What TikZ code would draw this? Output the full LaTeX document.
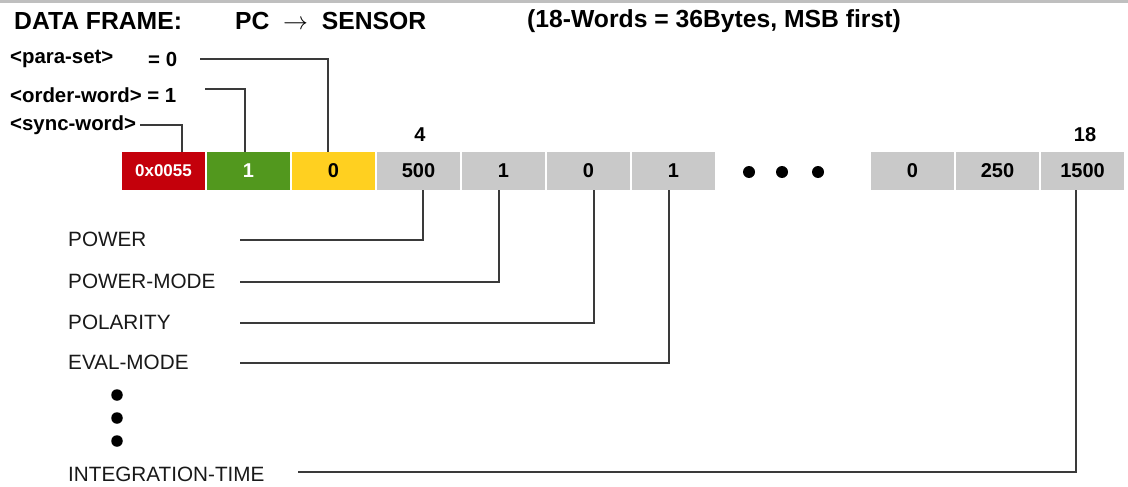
\documentclass[tikz,border=0pt]{standalone}
\usepackage{fontspec}
\setmainfont{Liberation Sans}
\usetikzlibrary{calc}
\definecolor{cred}{HTML}{C4000B}
\definecolor{cgreen}{HTML}{52981E}
\definecolor{cyellow}{HTML}{FFD020}
\definecolor{cgray}{HTML}{C9C9C9}
\definecolor{cline}{HTML}{3A3A3A}
\begin{document}
\begin{tikzpicture}[x=1pt,y=-1pt,
  word/.style={minimum width=83pt,minimum height=38pt,inner sep=0pt,fill=cgray,
    font=\fontsize{20}{24}\selectfont\bfseries},
  ttl/.style={anchor=west,inner sep=0pt,font=\fontsize{24.7}{28}\selectfont\bfseries},
  tag/.style={anchor=west,inner sep=0pt,font=\fontsize{20.4}{24}\selectfont\bfseries},
  lbl/.style={anchor=west,inner sep=0pt,text=black!90,font=\fontsize{20.7}{24}\selectfont},
  conn/.style={draw=cline,line width=1.4pt},
  dot/.style={circle,fill=black,inner sep=0pt,minimum size=12pt}]
\useasboundingbox (0,0) rectangle (1128,487);
\fill[white] (0,0) rectangle (1128,487);
\draw[line width=3pt,draw=black!25] (0,2) -- (1128,2);
% title
\node[ttl] (t1) at (14,21) {DATA FRAME:};
\node[ttl] (t2) at (235,21) {PC\ \ $\rightarrow$\ \ SENSOR};
\node[ttl] (t3) at (527,21) {(18-Words = 36Bytes, MSB first)};
% tags
\node[tag] (para) at (10,59) {<para-set>};
\node[tag] (paraeq) at (148,59) {= 0};
\node[tag] (ord) at (10,95) {<order-word> = 1};
\node[tag] (sync) at (10,125) {<sync-word>};
% words
\node[word,fill=cred,text=white,font=\fontsize{17}{20}\selectfont\bfseries] (b1) at (163.5,171) {0x0055};
\node[word,fill=cgreen,text=white] (b2) at (248.5,171) {1};
\node[word,fill=cyellow] (b3) at (333.5,171) {0};
\node[word] (b4) at (418.5,171) {500};
\node[word] (b5) at (503.5,171) {1};
\node[word] (b6) at (588.5,171) {0};
\node[word] (b7) at (673.5,171) {1};
\node[word] (b8) at (912.5,171) {0};
\node[word] (b9) at (997.5,171) {250};
\node[word] (b10) at (1082.5,171) {1500};
\node[inner sep=0pt,font=\fontsize{20}{24}\selectfont\bfseries] (n4) at (420,135) {4};
\node[inner sep=0pt,font=\fontsize{20}{24}\selectfont\bfseries] (n18) at (1085,135) {18};
\node[dot] (d1) at (749,172) {};
\node[dot] (d2) at (782,172) {};
\node[dot] (d3) at (818,172) {};
% top connectors
\coordinate (s0) at (140,125);
\coordinate (o0) at (205,89);
\coordinate (p0) at (200,59);
\draw[conn] (s0) -| ([xshift=18.5pt]b1.north);
\draw[conn] (o0) -| ([xshift=-3.5pt]b2.north);
\draw[conn] (p0) -| ([xshift=-5.5pt]b3.north);
% bottom labels
\node[lbl] (power) at (68,239) {POWER};
\node[lbl] (pmode) at (68,281) {POWER-MODE};
\node[lbl] (pol) at (68,322) {POLARITY};
\node[lbl] (eval) at (68,362) {EVAL-MODE};
\node[dot,minimum size=11.5pt] (v1) at (117,395) {};
\node[dot,minimum size=11.5pt] (v2) at (117,418) {};
\node[dot,minimum size=11.5pt] (v3) at (117,441) {};
\node[lbl] (itime) at (68,474) {INTEGRATION-TIME};
\coordinate (c1) at (240,240);
\coordinate (c2) at (240,282);
\coordinate (c3) at (240,323);
\coordinate (c4) at (240,363);
\coordinate (c5) at (298,472);
\draw[conn] (c1) -| ([xshift=4.5pt]b4.south);
\draw[conn] (c2) -| ([xshift=-4.5pt]b5.south);
\draw[conn] (c3) -| ([xshift=5.5pt]b6.south);
\draw[conn] (c4) -| ([xshift=-4.5pt]b7.south);
\draw[conn] (c5) -| ([xshift=-6.5pt]b10.south);
\end{tikzpicture}
\end{document}
